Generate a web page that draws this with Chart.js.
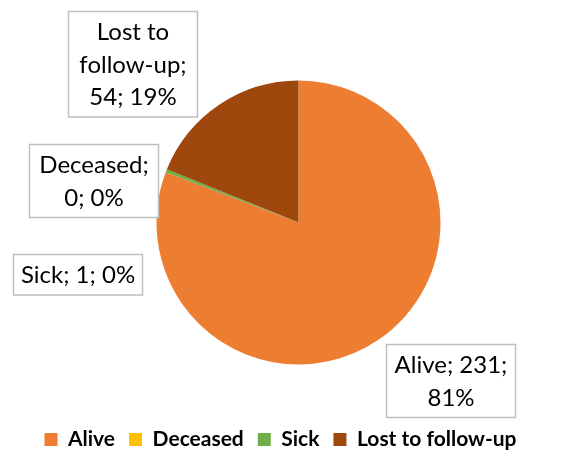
<!DOCTYPE html>
<html>
<head>
<meta charset="utf-8">
<script src="https://cdn.jsdelivr.net/npm/chart.js@4/dist/chart.umd.min.js"></script>
<style>
  html, body { margin: 0; padding: 0; background: #fff; }
  #wrap { width: 561px; height: 450px; overflow: hidden; }
</style>
</head>
<body>
<div id="wrap"><canvas id="c" width="561" height="450"></canvas></div>
<script>
// ---- data ----
const categories = ['Alive', 'Deceased', 'Sick', 'Lost to follow-up'];
const counts = [231, 0, 1, 54];
const sliceColors = ['#ED7D31', '#FFC000', '#70AD47', '#9E480E'];

// ---- label layout (offset of each callout box centre from its slice's outer mid-point) ----
const labelOffsets = [[71, 41], [-72, 8], [-89, 104], [-87, -41]];
const labelBoxWidth = 129;
const labelWrapWidth = 121;
const labelLineHeight = 32.5;
const labelFont = '24px Lato';

function wrapText(ctx, text, maxW) {
  const words = text.split(' ');
  const lines = [];
  let cur = '';
  words.forEach(w => {
    const test = cur ? cur + ' ' + w : w;
    if (cur && ctx.measureText(test).width > maxW) {
      lines.push(cur);
      cur = w;
    } else {
      cur = test;
    }
  });
  if (cur) lines.push(cur);
  return lines;
}

const calloutPlugin = {
  id: 'callouts',
  afterDatasetsDraw(chart) {
    const ctx = chart.ctx;
    const meta = chart.getDatasetMeta(0);
    const data = chart.data.datasets[0].data;
    const total = data.reduce((a, b) => a + b, 0);
    ctx.save();
    ctx.font = labelFont;
    meta.data.forEach((arc, i) => {
      const p = arc.getProps(['x', 'y', 'startAngle', 'endAngle', 'outerRadius'], true);
      const mid = (p.startAngle + p.endAngle) / 2;
      const ax = p.x + Math.cos(mid) * p.outerRadius;
      const ay = p.y + Math.sin(mid) * p.outerRadius;
      const cx = ax + labelOffsets[i][0];
      const cy = ay + labelOffsets[i][1];
      const pct = Math.round(data[i] / total * 100);
      const text = categories[i] + '; ' + data[i] + '; ' + pct + '%';
      const lines = wrapText(ctx, text, labelWrapWidth);
      const h = lines.length * labelLineHeight + 8;
      const left = Math.round(cx - labelBoxWidth / 2) + 0.5;
      const top = Math.round(cy - h / 2) + 0.5;
      ctx.fillStyle = '#ffffff';
      ctx.fillRect(left, top, labelBoxWidth, h);
      ctx.strokeStyle = '#bfbfbf';
      ctx.lineWidth = 1.5;
      ctx.strokeRect(left, top, labelBoxWidth, h);
      ctx.fillStyle = '#000000';
      ctx.textAlign = 'center';
      ctx.textBaseline = 'middle';
      lines.forEach((ln, k) => {
        ctx.fillText(ln, left + labelBoxWidth / 2, top + 4 + labelLineHeight / 2 + k * labelLineHeight + 1);
      });
    });
    ctx.restore();
  }
};

new Chart(document.getElementById('c'), {
  type: 'pie',
  data: {
    labels: categories,
    datasets: [{
      data: counts,
      backgroundColor: sliceColors,
      borderWidth: 0,
      hoverOffset: 0,
      radius: 142
    }]
  },
  options: {
    responsive: false,
    animation: false,
    events: [],
    layout: { padding: { top: 30, bottom: -10, left: 0, right: 0 } },
    plugins: {
      tooltip: { enabled: false },
      title: {
        display: true,
        position: 'left',
        text: '',
        font: { size: 10, lineHeight: 1.2 },
        padding: { top: 12, bottom: 12 }
      },
      legend: {
        position: 'bottom',
        labels: {
          boxWidth: 13,
          boxHeight: 13,
          padding: 14,
          color: '#000',
          font: { family: 'Lato', size: 21, weight: 'bold' }
        }
      }
    }
  },
  plugins: [calloutPlugin]
});
</script>
</body>
</html>
